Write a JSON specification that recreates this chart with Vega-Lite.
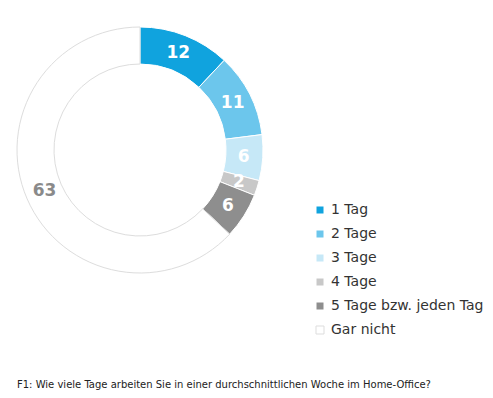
{
  "$schema": "https://vega.github.io/schema/vega-lite/v6.json",
  "width": 280,
  "height": 300,
  "autosize": {"type": "none"},
  "padding": {"left": 0, "top": 0, "right": 213, "bottom": 98},
  "background": "white",
  "config": {"view": {"stroke": null}, "font": "DejaVu Sans"},
  "title": {
    "text": "F1: Wie viele Tage arbeiten Sie in einer durchschnittlichen Woche im Home-Office?",
    "orient": "bottom",
    "anchor": "start",
    "frame": "group",
    "dx": 17,
    "offset": 43,
    "fontSize": 10,
    "fontWeight": "normal",
    "color": "#222222",
    "font": "DejaVu Sans"
  },
  "data": {
    "values": [
      {"cat": "1 Tag", "v": 12, "o": 1},
      {"cat": "2 Tage", "v": 11, "o": 2},
      {"cat": "3 Tage", "v": 6, "o": 3},
      {"cat": "4 Tage", "v": 2, "o": 4},
      {"cat": "5 Tage bzw. jeden Tag", "v": 6, "o": 5},
      {"cat": "Gar nicht", "v": 63, "o": 6}
    ]
  },
  "encoding": {
    "theta": {"field": "v", "type": "quantitative", "stack": true},
    "order": {"field": "o", "type": "quantitative"}
  },
  "layer": [
    {
      "mark": {"type": "arc", "innerRadius": 86, "outerRadius": 123, "strokeWidth": 1},
      "encoding": {
        "color": {
          "field": "cat",
          "type": "nominal",
          "sort": null,
          "scale": {
            "domain": ["1 Tag", "2 Tage", "3 Tage", "4 Tage", "5 Tage bzw. jeden Tag", "Gar nicht"],
            "range": ["#10a3de", "#6cc6ec", "#c6e8f7", "#c8c8c8", "#8e8e8e", "#ffffff"]
          },
          "legend": {
            "title": null,
            "orient": "none",
            "legendX": 313,
            "legendY": 203,
            "symbolType": "square",
            "symbolSize": 64,
            "symbolStrokeWidth": 1,
            "labelFontSize": 14,
            "labelFont": "DejaVu Sans",
            "labelColor": "#333333",
            "labelOffset": 4,
            "rowPadding": 10
          }
        },
        "stroke": {
          "field": "cat",
          "type": "nominal",
          "sort": null,
          "scale": {
            "domain": ["1 Tag", "2 Tage", "3 Tage", "4 Tage", "5 Tage bzw. jeden Tag", "Gar nicht"],
            "range": ["#ffffff", "#ffffff", "#ffffff", "#ffffff", "#ffffff", "#dddddd"]
          },
          "legend": {
            "title": null,
            "orient": "none",
            "legendX": 313,
            "legendY": 203,
            "symbolType": "square",
            "symbolSize": 64,
            "labelFontSize": 14,
            "labelFont": "DejaVu Sans",
            "labelColor": "#333333",
            "labelOffset": 4,
            "rowPadding": 10
          }
        }
      }
    },
    {
      "mark": {"type": "text", "radius": 104, "fontSize": 17, "fontWeight": "bold", "font": "DejaVu Sans"},
      "encoding": {
        "text": {"field": "v", "type": "quantitative"},
        "color": {
          "condition": {"test": "datum.cat === 'Gar nicht'", "value": "#8a8a8a"},
          "value": "#ffffff"
        }
      }
    }
  ]
}
